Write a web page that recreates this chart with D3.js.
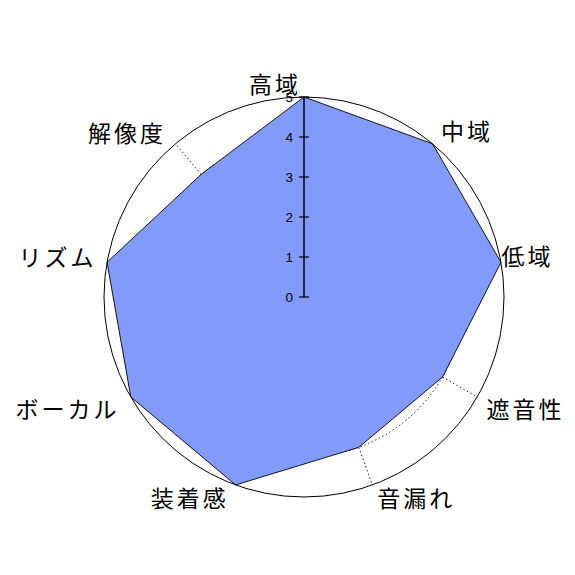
<!DOCTYPE html>
<html>
<head>
<meta charset="utf-8">
<script src="https://cdn.jsdelivr.net/npm/d3@7"></script>
<style>
html,body{margin:0;padding:0;background:#fff;}
svg{display:block;}
</style>
</head>
<body>
<svg id="chart" width="575" height="575"></svg>
<script>
// ---- data ----
const categories = ["高域","中域","低域","遮音性","音漏れ","装着感","ボーカル","リズム","解像度"];
const values = [5,5,5,4,4,5,5,5,4];
const tickValues = [0,1,2,3,4,5];
const tickLabels = ["0","1","2","3","4","5"];
const gridLevels = [1,2,3,4];
const maxValue = 5;

// ---- layout ----
const cx = 304, cy = 297, radius = 200;
const labelRadius = 235;
const labelNudge = [[-29,21],[12,13],[-8,-1],[18,-7],[32,-21],[-34,-21],[-33,-7],[-15,0],[-26,15]];

const svg = d3.select("#chart");
const g = svg.append("g").attr("transform", `translate(${cx},${cy})`);

const r = d3.scaleLinear().domain([0, maxValue]).range([0, radius]);
const angle = d3.scaleLinear().domain([0, categories.length]).range([0, 2*Math.PI]);

function pt(i, v){
  const a = angle(i);
  return [r(v)*Math.sin(a), -r(v)*Math.cos(a)];
}

// dotted grid circles
g.selectAll("circle.grid").data(gridLevels).enter().append("circle")
  .attr("class","grid").attr("r", d => r(d))
  .attr("fill","none").attr("stroke","#000").attr("stroke-width",0.9)
  .attr("stroke-dasharray","1.5,2.5");

// dotted radial lines
g.selectAll("line.spoke").data(categories).enter().append("line")
  .attr("x1",0).attr("y1",0)
  .attr("x2",(d,i)=>pt(i,maxValue)[0]).attr("y2",(d,i)=>pt(i,maxValue)[1])
  .attr("stroke","#000").attr("stroke-width",0.9).attr("stroke-dasharray","1.5,2.5");

// data polygon
const line = d3.line().curve(d3.curveLinearClosed);
g.append("path")
  .datum(values.map((v,i)=>pt(i,v)))
  .attr("d", line)
  .attr("fill","rgb(130,155,250)")
  .attr("stroke","#000").attr("stroke-width",0.9);

// outer circle
g.append("circle").attr("r", r(maxValue))
  .attr("fill","none").attr("stroke","#000").attr("stroke-width",1);

// vertical axis with ticks
const yAxis = d3.scaleLinear().domain([0,maxValue]).range([0,-radius]);
const axis = g.append("g");
axis.append("line").attr("x1",0).attr("x2",0).attr("y1",yAxis(0)).attr("y2",yAxis(maxValue))
  .attr("stroke","#000").attr("stroke-width",1.5);
axis.selectAll("line.tick").data(tickValues).enter().append("line")
  .attr("x1",-5).attr("x2",5).attr("y1",d=>yAxis(d)).attr("y2",d=>yAxis(d))
  .attr("stroke","#000").attr("stroke-width",1.2);
axis.selectAll("text.tick").data(tickValues).enter().append("text")
  .attr("x",-11).attr("y",d=>yAxis(d))
  .attr("text-anchor","end").attr("dominant-baseline","central")
  .attr("font-family","Liberation Sans, Arial, sans-serif").attr("font-size",13.5)
  .attr("fill","#000")
  .text((d,i)=>tickLabels[i]);

// category labels
g.selectAll("text.cat").data(categories).enter().append("text")
  .attr("x",(d,i)=>labelRadius*Math.sin(angle(i)) + labelNudge[i][0])
  .attr("y",(d,i)=>-labelRadius*Math.cos(angle(i)) + labelNudge[i][1])
  .attr("text-anchor","middle").attr("dominant-baseline","central")
  .attr("font-family","'Noto Sans CJK JP', sans-serif").attr("font-size",23)
  .attr("letter-spacing",3)
  .attr("fill","#000")
  .text(d=>d);
</script>
</body>
</html>
